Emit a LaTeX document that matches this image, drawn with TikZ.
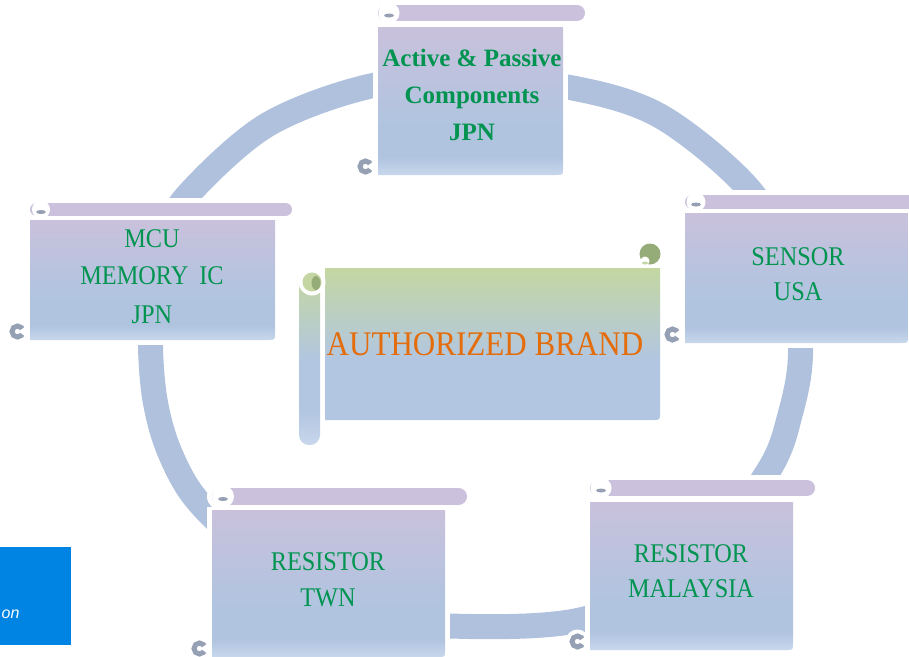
\documentclass[tikz,border=0pt]{standalone}
\usepackage{fontspec}
\setmainfont{Liberation Serif}
\newfontfamily\simfont[FakeStretch=0.9]{Liberation Serif}
\newfontfamily\uisans{Liberation Sans}
\definecolor{ringcol}{RGB}{176,193,221}
\definecolor{barcol}{RGB}{203,193,220}
\definecolor{bodypurple}{RGB}{201,193,220}
\definecolor{bodyblue}{RGB}{176,196,224}
\definecolor{bodylight}{RGB}{200,215,236}
\definecolor{curlgrey}{RGB}{150,160,180}
\definecolor{authgreen}{RGB}{196,215,162}
\definecolor{authblue}{RGB}{178,198,225}
\definecolor{olivecol}{RGB}{150,172,120}
\definecolor{textgreen}{RGB}{0,148,80}
\definecolor{textorange}{RGB}{228,108,10}
\definecolor{winblue}{RGB}{0,132,227}
\pgfdeclareverticalshading{scrollbody}{100bp}{color(0bp)=(bodylight); color(25bp)=(bodylight); color(31bp)=(bodyblue); color(42bp)=(bodyblue); color(75bp)=(bodypurple); color(100bp)=(bodypurple)}
\pgfdeclareverticalshading{authbody}{100bp}{color(0bp)=(authblue); color(25bp)=(authblue); color(45bp)=(authblue); color(75bp)=(authgreen); color(100bp)=(authgreen)}
\pgfdeclareverticalshading{authbar}{100bp}{color(0bp)=(bodylight); color(25bp)=(bodylight); color(35bp)=(authblue); color(50bp)=(authblue); color(75bp)=(authgreen); color(100bp)=(authgreen)}
\tikzset{
  gtxt/.style={text=textgreen, font=\simfont\fontsize{27}{30}\selectfont, inner sep=0pt, anchor=base},
  btxt/.style={text=textgreen, font=\bfseries\fontsize{25}{28}\selectfont, inner sep=0pt, anchor=base},
  otxt/.style={text=textorange, font=\simfont\fontsize{34.5}{36}\selectfont, inner sep=0pt, anchor=base},
  ringline/.style={draw=ringcol, line width=25pt},
}
\newcommand\hscroll[7]{%
  \pgfmathsetmacro\scrL{#1}%
  \pgfmathsetmacro\scrR{#2}%
  \pgfmathsetmacro\scrBT{#3}%
  \pgfmathsetmacro\scrBH{#4}%
  \pgfmathsetmacro\scrT{#5}%
  \pgfmathsetmacro\scrB{#6}%
  \pgfmathsetmacro\scrBR{#7}%
  \pgfmathsetmacro\scrBM{#3+#4/2}%
  \pgfmathsetmacro\scrHW{#4+10}%
  \pgfmathsetmacro\scrCR{#4/2+2.5}%
  \fill[white] (\scrL-5,\scrT-3) rectangle (\scrR+5,\scrB+5);
  \draw[white,line width=\scrHW pt,line cap=round] (\scrL+\scrBH/2,\scrBM) -- (\scrBR-\scrBH/2,\scrBM);
  \fill[white] (\scrL-12.5,\scrB-8.5) circle[radius=12pt];
  \draw[barcol,line width=\scrBH pt,line cap=round] (\scrL+\scrBH/2,\scrBM) -- (\scrBR-\scrBH/2,\scrBM);
  \shade[shading=scrollbody] (\scrL,\scrT) -- (\scrR,\scrT) -- (\scrR,\scrB-7) .. controls (\scrR,\scrB) .. (\scrR-7,\scrB) -- (\scrL,\scrB) -- cycle;
  \fill[white] (\scrL+11,\scrBM) circle[radius=\scrCR pt];
  \fill[curlgrey] (\scrL+11,\scrBM+2.5) ellipse[x radius=5pt, y radius=2pt];
  \draw[curlgrey,line width=5pt] (\scrL-12.5,\scrB-8.5) circle[radius=5.5pt];
  \fill[white] (\scrL-11.5,\scrB-8.5) -- (\scrL-1,\scrB-16) -- (\scrL-1,\scrB-1) -- cycle;
}
\begin{document}
\begin{tikzpicture}[x=1pt,y=-1pt]
\useasboundingbox (0,0) rectangle (909,656);
\fill[white] (0,0) rectangle (909,656);
% ring
\draw[ringline] plot[smooth cycle, tension=0.55] coordinates {
  (472,80) (570,87.5) (660,116) (748,188) (788,262) (800.5,350) (790,415)
  (767,473) (690,572) (580,620) (450,626) (380,614) (300,585) (238,540)
  (193,495) (168,448) (155,400) (150.5,346) (153,290) (170,235) (186,197)
  (267,125) (373,85.5)};
% central scroll
\shade[shading=authbar, rounded corners=10pt] (299,275) rectangle (320,445);
\shade[shading=authbody] (325,268) -- (660,268) -- (660,413) .. controls (660,420) .. (653,420) -- (325,420) -- cycle;
\fill[white] (312,282) circle[radius=13.5pt];
\fill[authgreen] (312,282) circle[radius=9.5pt];
\fill[olivecol] (316,283) ellipse[x radius=4.5pt, y radius=7pt];
\fill[olivecol] (650,254) circle[radius=10.5pt];
\fill[white] (645,261) circle[radius=4.5pt];
\fill[authgreen] (645,263) ellipse[x radius=3pt, y radius=1.5pt];
\node[otxt] (auth) at (485,355) {AUTHORIZED BRAND};
% satellite scrolls
\hscroll{378}{563}{5}{16}{27}{175}{585}
\hscroll{30}{275}{203}{13}{220}{340}{292}
\hscroll{685}{908}{195}{14}{213}{343}{930}
\hscroll{212}{445}{488}{17}{510}{657}{467}
\hscroll{590}{793}{480}{16}{502}{650}{815}
% texts
\node[btxt] (top1) at (472,66) {Active \& Passive};
\node[btxt] (top2) at (472,103) {Components};
\node[btxt] (top3) at (472,140) {JPN};
\node[gtxt] (mcu1) at (152,247) {MCU};
\node[gtxt] (mcu2) at (152,284) {MEMORY\hspace{5pt} IC};
\node[gtxt] (mcu3) at (152,323) {JPN};
\node[gtxt] (sen1) at (798,265) {SENSOR};
\node[gtxt] (sen2) at (798,300.5) {USA};
\node[gtxt] (twn1) at (328,570) {RESISTOR};
\node[gtxt] (twn2) at (328,606) {TWN};
\node[gtxt] (mal1) at (691,562.5) {RESISTOR};
\node[gtxt] (mal2) at (691,597.5) {MALAYSIA};
% window fragment
\fill[winblue] (0,547) rectangle (71,645);
\node[anchor=base west, text=white, font=\uisans\itshape\fontsize{16}{16}\selectfont, inner sep=0pt] (winon) at (1.5,618) {on};
\end{tikzpicture}
\end{document}
